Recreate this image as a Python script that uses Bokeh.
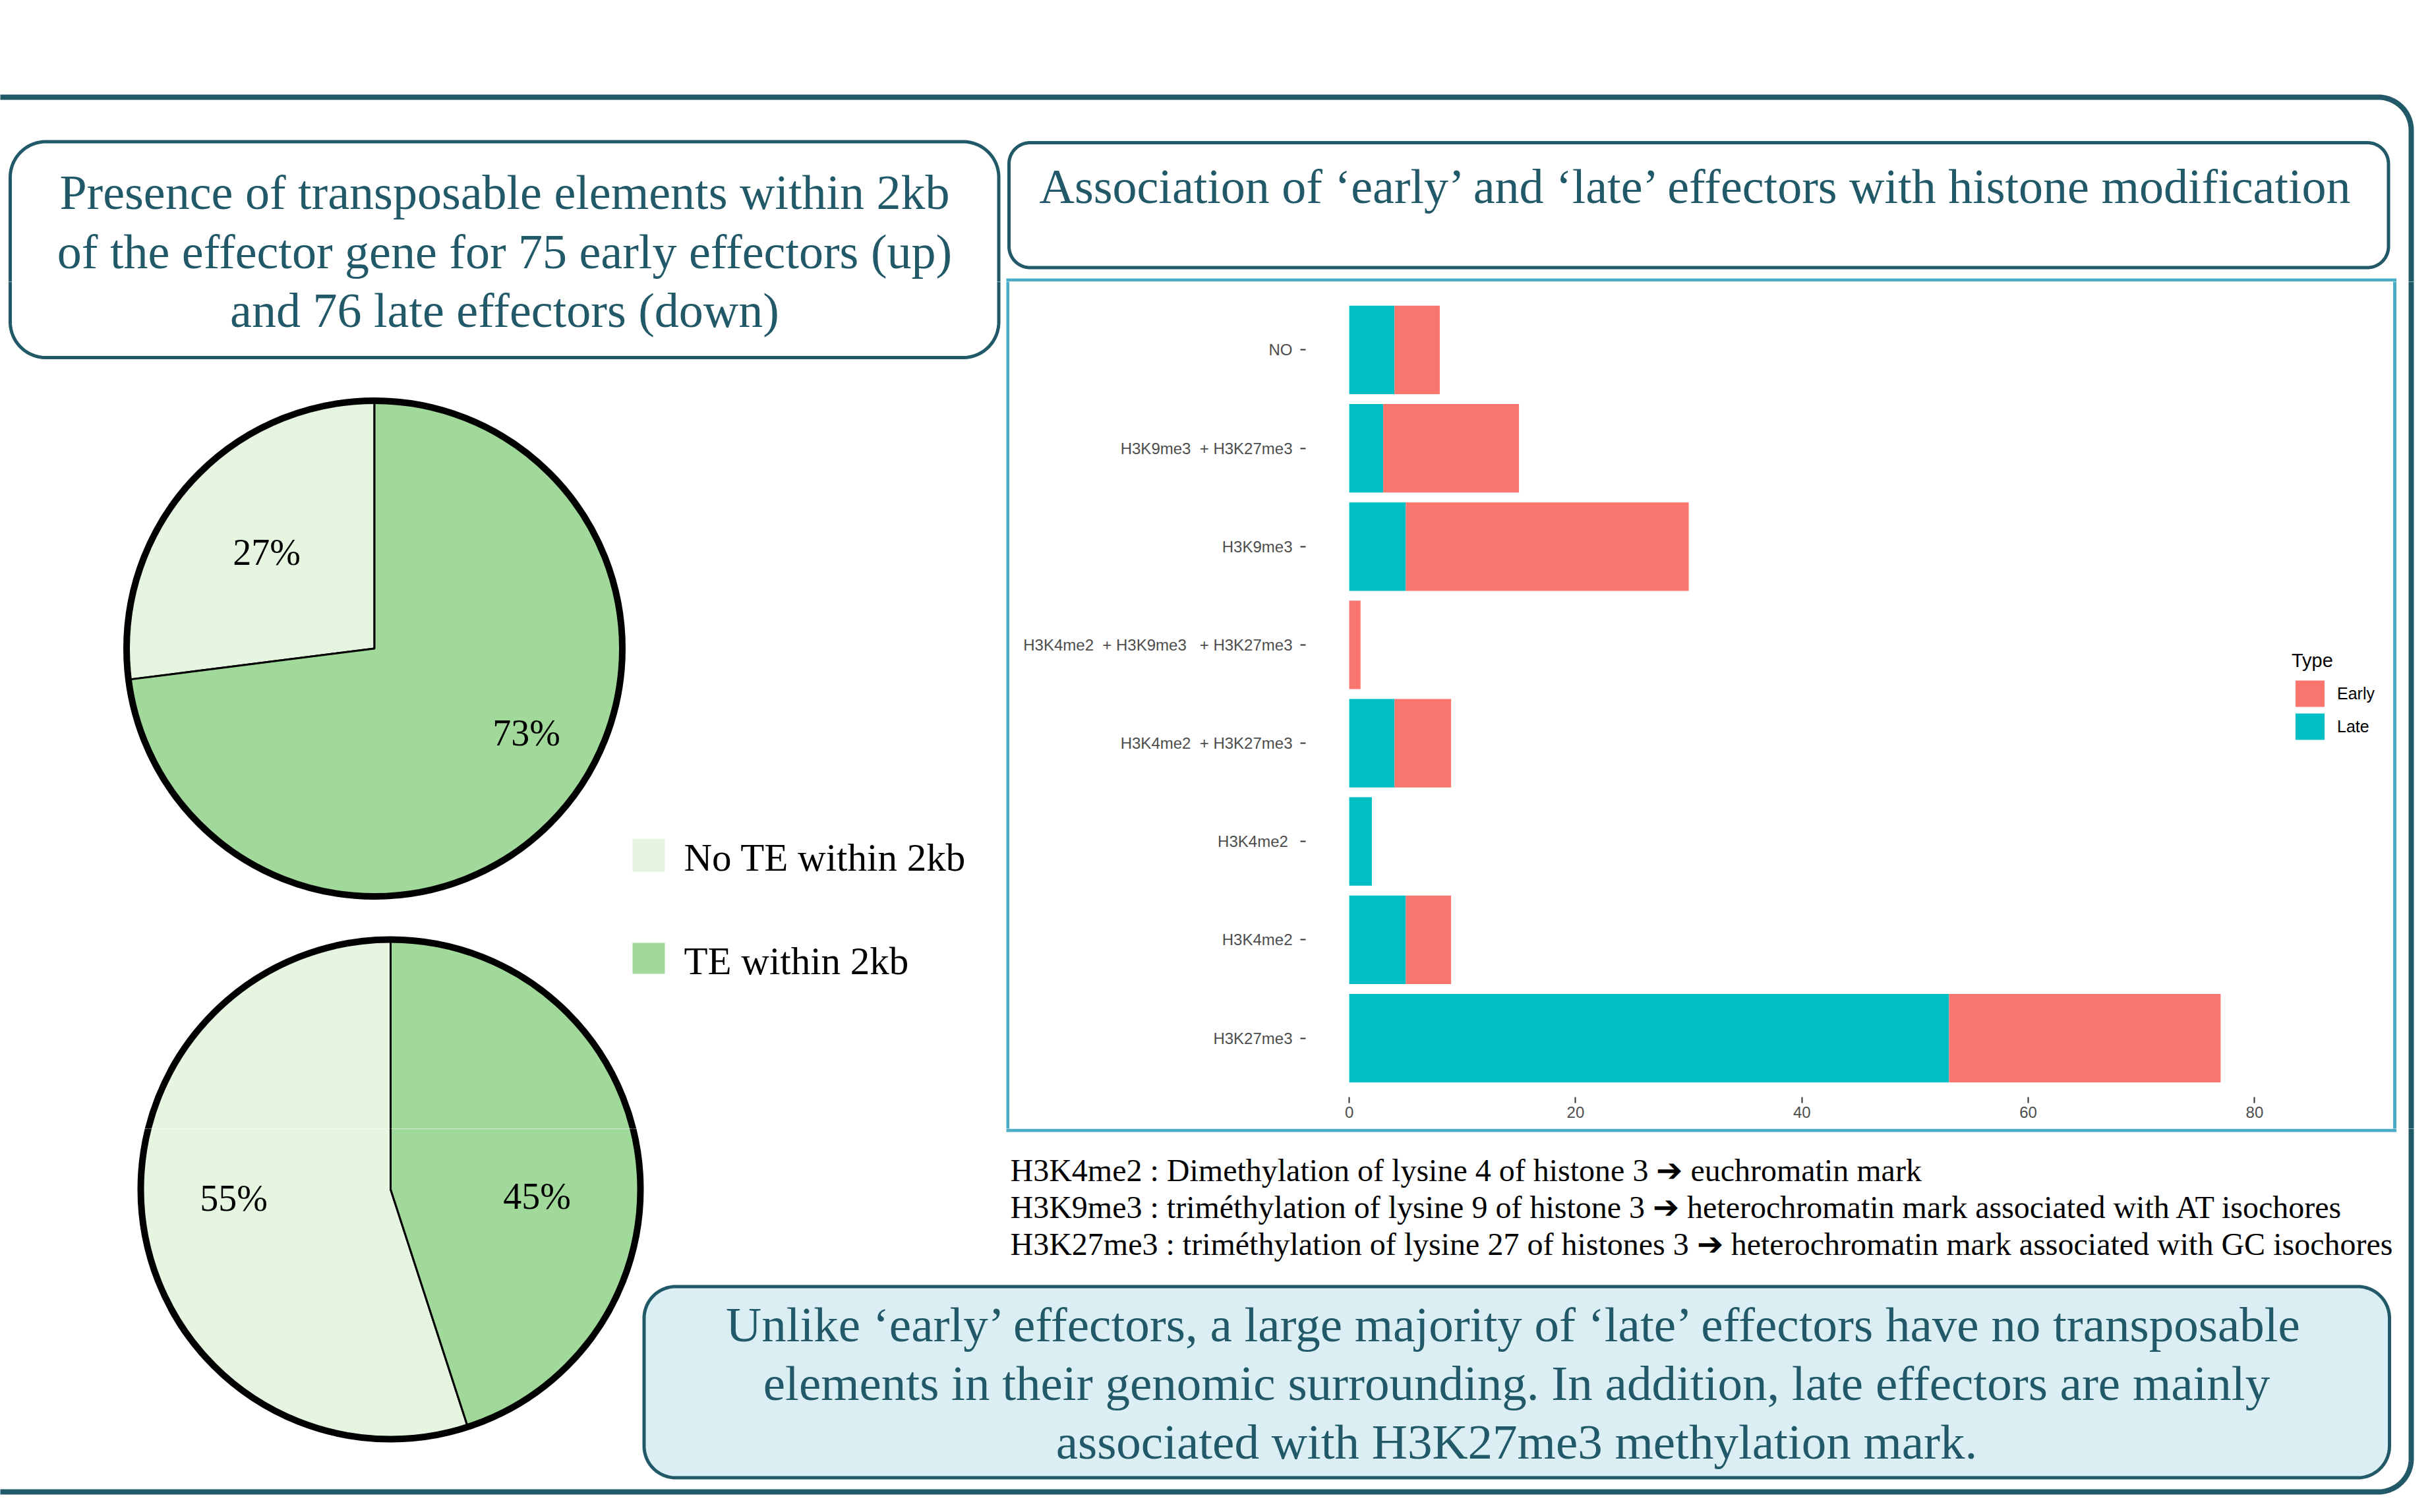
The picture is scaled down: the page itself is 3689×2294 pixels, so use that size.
import numpy as np
from bokeh.plotting import figure
from bokeh.models import Range1d, FactorRange, ColumnDataSource, FixedTicker, Legend, LegendItem
from bokeh.layouts import column, row
from bokeh.embed import file_html
from bokeh.resources import INLINE
from bokeh.core.properties import value

# ---------------- data ----------------
histone_marks = [
    "H3K27me3",
    "H3K4me2",
    "H3K4me2\u00a0",
    "H3K4me2\u00a0\u00a0+ H3K27me3",
    "H3K4me2\u00a0\u00a0+ H3K9me3\u00a0\u00a0\u00a0+ H3K27me3",
    "H3K9me3",
    "H3K9me3\u00a0\u00a0+ H3K27me3",
    "NO",
]
late_counts = [53, 5, 2, 4, 0, 5, 3, 4]
early_counts = [24, 4, 0, 5, 1, 25, 12, 4]
type_names = ["Early", "Late"]
count_ticks = [0, 20, 40, 60, 80]

te_classes = ["No TE within 2kb", "TE within 2kb"]
early_te_pct = [27, 73]   # top pie: 75 early effectors
late_te_pct = [55, 45]    # bottom pie: 76 late effectors

left_title_lines = [
    "Presence of transposable elements within 2kb",
    "of the effector gene for 75 early effectors (up)",
    "and 76 late effectors (down)",
]
right_title = "Association of \u2018early\u2019 and \u2018late\u2019 effectors with histone modification"
footnote_lines = [
    "H3K4me2 : Dimethylation of lysine 4 of histone 3 \u2794 euchromatin mark",
    "H3K9me3 : trim\u00e9thylation of lysine 9 of histone 3 \u2794 heterochromatin mark associated with AT isochores",
    "H3K27me3 : trim\u00e9thylation of lysine 27 of histones 3 \u2794 heterochromatin mark associated with GC isochores",
]
conclusion_lines = [
    "Unlike \u2018early\u2019 effectors, a large majority of \u2018late\u2019 effectors have no transposable",
    "elements in their genomic surrounding. In addition, late effectors are mainly",
    "associated with H3K27me3 methylation mark.",
]

# ---------------- styles ----------------
TEAL = "#215968"
BLUE = "#4BACC6"
BOX_FILL = "#DAEEF3"
EARLY_C = "#F8766D"
LATE_C = "#00BFC4"
PIE_C = ["#E5F5E0", "#A1D99B"]
SERIF = "Liberation Serif"
SANS = "Liberation Sans"
BASE_SHIFT = 0.33   # em offset between requested and rendered baseline

# canvas (global pixel coords, y downwards); a little smaller than the window (no scrollbars)
CX0, CX1, CY0, CY1 = 0, 3664, 0, 2270
BAR_L, BAR_R, BAR_T, BAR_B = 1531, 3629, 427, 1712
FRAME_L, FRAME_R, FRAME_T, FRAME_B = 1980, 3434, 441, 1664


def rounded(x0, x1, y0, y1, r, n=30):
    xs, ys = [], []
    for cx, cy, a0 in [(x1 - r, y0 + r, -90), (x1 - r, y1 - r, 0), (x0 + r, y1 - r, 90), (x0 + r, y0 + r, 180)]:
        for t in np.linspace(a0, a0 + 90, n):
            xs.append(cx + r * np.cos(np.radians(t)))
            ys.append(cy + r * np.sin(np.radians(t)))
    return xs, ys


boxes = [
    (rounded(-60, 3657, 147, 2263, 50), None, TEAL, 8),
    (rounded(15, 1514.5, 214.5, 542, 54), "white", TEAL, 5),
    (rounded(1530, 3622.5, 216, 405.5, 32), "white", TEAL, 5),
    (rounded(976.5, 3624, 1951.5, 2241.5, 48), BOX_FILL, TEAL, 5),
]
blue_frame = ([1528.5, 3632, 3632, 1528.5], [424.5, 424.5, 1714.5, 1714.5])

pies = [
    (567.5, 983.5, 376, early_te_pct, [(404, 856), (798, 1130)]),
    (592, 1804, 379, late_te_pct, [(354, 1836), (814, 1833)]),
]

texts = []
for i, t in enumerate(left_title_lines):
    texts.append((765, [316, 405.5, 495][i], t, 74, TEAL, "center"))
texts.append((2576, 307, right_title, 74, TEAL, "center"))
for i, t in enumerate(conclusion_lines):
    texts.append((2300, [2034, 2123, 2212][i], t, 75, TEAL, "center"))
for i, t in enumerate(footnote_lines):
    texts.append((1532, [1791, 1847, 1903][i], t, 48, "black", "left"))
for cx, cy, r, pct, lpos in pies:
    for (lx, ly), v in zip(lpos, pct):
        texts.append((lx, ly, f"{v}%", 56, "black", "center"))
leg_y = [(1272, 1322, 1320), (1430, 1477, 1477)]
for (t0, t1, base), name in zip(leg_y, te_classes):
    texts.append((1037, base, name, 59, "black", "left"))


def tile(x0, x1, y0, y1):
    """A piece of the background; every piece shows the same drawing through its own window."""
    p = figure(width=int(x1 - x0), height=int(y1 - y0), x_range=Range1d(x0, x1), y_range=Range1d(y1, y0),
               output_backend="svg", toolbar_location=None, title_location=None, min_border=0,
               min_border_left=0, min_border_right=0, min_border_top=0, min_border_bottom=0,
               x_axis_type=None, y_axis_type=None, outline_line_color=None)
    p.background_fill_color = "white"
    p.border_fill_color = "white"
    for (xs, ys), fill, lc, lw in boxes:
        p.patch(xs, ys, fill_color=fill, line_color=lc, line_width=lw)
    p.patch(blue_frame[0], blue_frame[1], fill_color=None, line_color=BLUE, line_width=5, line_join="miter")
    for cx, cy, r, pct, lpos in pies:
        no_te, te = pct
        psrc = ColumnDataSource(dict(
            x=[cx, cx], y=[cy, cy],
            start=[np.radians(90), np.radians(90 - te * 3.6)],
            end=[np.radians(90 + no_te * 3.6), np.radians(90)],
            color=PIE_C,
        ))
        p.wedge(x="x", y="y", radius=r, start_angle="start", end_angle="end", direction="anticlock",
                fill_color="color", line_color="black", line_width=3, source=psrc)
        p.circle(x=[cx], y=[cy], radius=r, fill_color=None, line_color="black", line_width=10)
    for (t0, t1, base), c in zip(leg_y, PIE_C):
        p.quad(left=[959], right=[1008], top=[t0], bottom=[t1], fill_color=c, line_color=None)
    for (tx, ty, t, fs, col, al) in texts:
        if x0 <= tx < x1 and y0 <= ty < y1:
            p.text(x=[tx], y=[ty - BASE_SHIFT * fs], text=[t], text_font=value(SERIF),
                   text_font_size=value(f"{fs}px"), text_color=col, text_align=al, text_baseline="alphabetic")
    return p


top = tile(CX0, CX1, CY0, BAR_T)
left = tile(CX0, BAR_L, BAR_T, BAR_B)
right = tile(BAR_R, CX1, BAR_T, BAR_B)
bottom = tile(CX0, CX1, BAR_B, CY1)

# ---------------- bar chart ----------------
totals = [a + b for a, b in zip(late_counts, early_counts)]
xmax = max(totals)
x_lo, x_hi = -0.05 * xmax, 1.05 * xmax          # ggplot-like 5% expansion
px_per_unit = (FRAME_R - FRAME_L) / (x_hi - x_lo)
x_end = x_hi + (BAR_R - FRAME_R) / px_per_unit   # frame extended to hold the legend
src = ColumnDataSource(dict(mark=histone_marks, Late=late_counts, Early=early_counts))
bar = figure(width=BAR_R - BAR_L, height=BAR_B - BAR_T,
             y_range=FactorRange(factors=histone_marks, range_padding=0.025, range_padding_units="percent"),
             x_range=Range1d(x_lo, x_end),
             output_backend="svg", toolbar_location=None, title_location=None,
             min_border_left=FRAME_L - BAR_L, min_border_right=0,
             min_border_top=FRAME_T - BAR_T, min_border_bottom=BAR_B - FRAME_B)
bar.background_fill_color = "white"
bar.border_fill_color = "white"
bar.outline_line_color = None
bar.grid.visible = False
late_r, early_r = bar.hbar_stack(["Late", "Early"], y="mark", height=0.9, fill_color=[LATE_C, EARLY_C],
                                 line_color=None, source=src)

for ax in (bar.xaxis, bar.yaxis):
    ax.axis_line_color = None
    ax.major_tick_line_color = "#333333"
    ax.major_tick_line_width = 2
    ax.major_tick_in = 0
    ax.minor_tick_line_color = None
    ax.major_label_text_font = SANS
    ax.major_label_text_font_size = "24px"
    ax.major_label_text_color = "#4D4D4D"
bar.yaxis.major_tick_out = 8
bar.yaxis.major_label_standoff = 12
bar.xaxis.major_tick_out = 9
bar.xaxis.major_label_standoff = 5
bar.xaxis.ticker = FixedTicker(ticks=count_ticks)

legend = Legend(items=[LegendItem(label=type_names[0], renderers=[early_r]),
                       LegendItem(label=type_names[1], renderers=[late_r])],
                title="Type", location=(3476 - FRAME_L, FRAME_B - 1127), padding=0, margin=0, spacing=0,
                glyph_width=55, glyph_height=50, label_standoff=14, title_standoff=8,
                border_line_color=None, background_fill_alpha=0)
legend.title_text_font = SANS
legend.title_text_font_size = "29px"
legend.title_text_font_style = "normal"
legend.title_text_color = "black"
legend.label_text_font = SANS
legend.label_text_font_size = "25px"
legend.label_text_color = "black"
bar.add_layout(legend)

# each piece of the middle band wrapped on its own, so that their frames are not aligned together
middle = row(column(left), column(bar), column(right))
layout = column(top, middle, bottom)
open("out.html", "w").write(file_html(layout, INLINE))
